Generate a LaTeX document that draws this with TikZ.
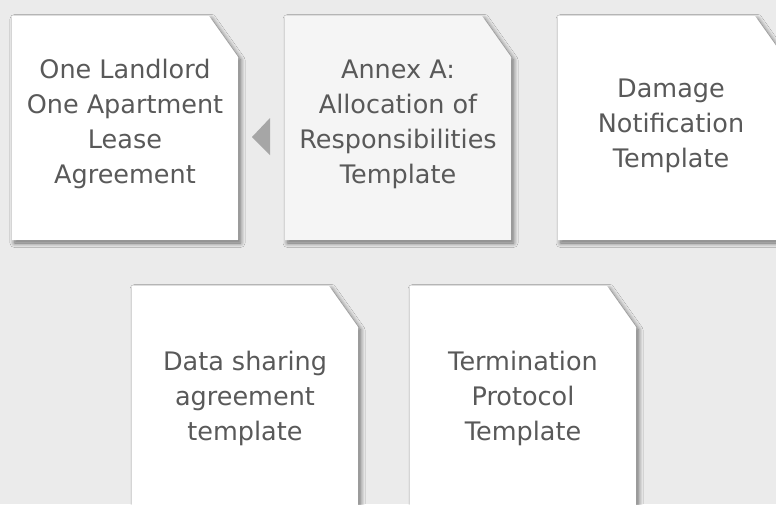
\documentclass[tikz,border=0pt]{standalone}
\usepackage{fontspec}
\setmainfont{DejaVu Sans}
\usetikzlibrary{shadows.blur}

\definecolor{canvas}{HTML}{EBEBEB}
\definecolor{pagefill}{HTML}{FFFFFF}
\definecolor{pagegray}{HTML}{F5F5F5}
\definecolor{inktext}{HTML}{595959}
\definecolor{marker}{HTML}{A6A6A6}

\tikzset{
  page/.style={fill=#1, blur shadow={shadow xshift=2.5pt, shadow yshift=-3pt,
      shadow blur radius=4.5pt, shadow blur steps=12, shadow opacity=55}},
  label/.style={text=inktext, align=center, inner sep=0pt,
      font=\fontsize{25.5}{35}\selectfont},
}

% a sheet of paper with its top right corner cut off
\newcommand\sheet[3]{% #1 left, #2 top, #3 fill colour
  \path[page=#3] (#1,#2) -- ++(197,0) -- ++(29,41) -- ++(0,183) -- ++(-226,0) -- cycle;
}

\begin{document}
\begin{tikzpicture}[x=1pt,y=-1pt]
  \useasboundingbox (0,0) rectangle (776,504);
  \fill[canvas] (0,0) rectangle (776,504);
  \clip (0,0) rectangle (776,504);

  \sheet{12}{16}{pagefill}
  \sheet{285}{16}{pagegray}
  \sheet{558}{16}{pagefill}
  \sheet{132}{286}{pagefill}
  \sheet{410}{286}{pagefill}

  \node[label] (lease) at (125,124) {One Landlord\\One Apartment\\Lease\\Agreement};
  \node[label] (annex) at (398,124) {Annex A:\\Allocation of\\Responsibilities\\Template};
  \node[label] (damage) at (671,126) {Damage\\Notification\\Template};
  \node[label] (data) at (245,398) {Data sharing\\agreement\\template};
  \node[label] (term) at (523,398) {Termination\\Protocol\\Template};

  % pointer from the annex back to the lease
  \fill[marker] (252,137) -- (270,118) -- (270,155) -- cycle;
\end{tikzpicture}
\end{document}
